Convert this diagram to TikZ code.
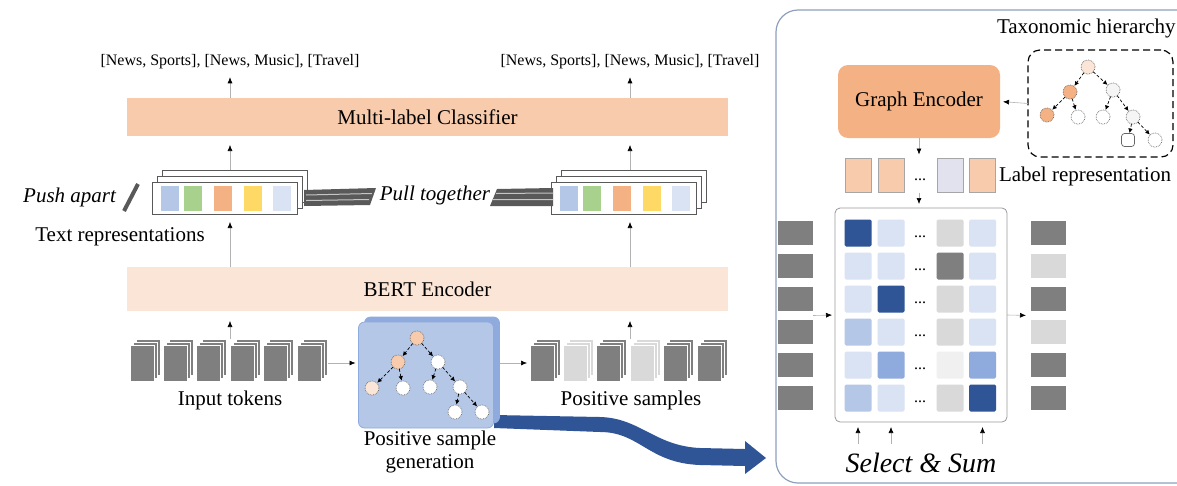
\documentclass[tikz,border=0pt]{standalone}
\usepackage{fontspec}
\setmainfont{Liberation Serif}
\usetikzlibrary{arrows.meta,shadows,calc}

\definecolor{clsfill}{HTML}{F8CBAD}
\definecolor{bertfill}{HTML}{FBE5D6}
\definecolor{gefill}{HTML}{F4B183}
\definecolor{psgfront}{HTML}{B4C7E7}
\definecolor{psgback}{HTML}{8FAADC}
\definecolor{darkblue}{HTML}{2F5597}
\definecolor{midblue}{HTML}{8FAADC}
\definecolor{softblue}{HTML}{B4C7E7}
\definecolor{paleblue}{HTML}{DAE3F3}
\definecolor{tokdark}{HTML}{7F7F7F}
\definecolor{toklight}{HTML}{D9D9D9}
\definecolor{repblue}{HTML}{B4C7E7}
\definecolor{repgreen}{HTML}{A9D18E}
\definecolor{reporange}{HTML}{F4B183}
\definecolor{repyellow}{HTML}{FFD966}
\definecolor{replight}{HTML}{DAE3F3}
\definecolor{panelline}{HTML}{8EA0BC}
\definecolor{bargray}{HTML}{595959}
\definecolor{lavender}{HTML}{E2E2EE}

\begin{document}
\begin{tikzpicture}[x=1pt,y=-1pt,
  every node/.style={inner sep=0pt, outer sep=0pt},
  txt/.style={font=\fontsize{21}{23}\selectfont},
  itxt/.style={font=\fontsize{21}{23}\selectfont\itshape},
  small/.style={font=\fontsize{16}{19}\selectfont},
  bar/.style={rectangle, minimum width=601pt},
  sarr/.style={draw=gray!60, line width=0.6pt, -{Latex[length=6pt,width=5pt,color=black]}},
  repbox/.style={rectangle, minimum width=145pt, minimum height=32pt, fill=white, draw=gray!70!black, line width=0.6pt,
    copy shadow={shadow xshift=10pt, shadow yshift=12pt, fill=white, draw=gray!70!black, line width=0.6pt},
    copy shadow={shadow xshift=5pt, shadow yshift=6pt, fill=white, draw=gray!70!black, line width=0.6pt}},
  repsq/.style={rectangle, minimum width=18pt, minimum height=25pt, fill=#1},
  tokblock/.style={rectangle, minimum width=24pt, minimum height=36pt, fill=#1, draw=white, line width=0.8pt,
    copy shadow={shadow xshift=6pt, shadow yshift=6pt, fill=#1, draw=white, line width=0.8pt},
    copy shadow={shadow xshift=3pt, shadow yshift=3pt, fill=#1, draw=white, line width=0.8pt}},
  hn/.style={circle, minimum size=14pt, draw=gray!80!black, densely dotted, line width=0.7pt, fill=#1},
  hedge/.style={densely dashed, line width=0.7pt, -{Latex[length=4.5pt,width=4.5pt]}, shorten >=0.5pt},
  rtok/.style={rectangle, minimum width=35pt, minimum height=24pt, fill=#1},
  mcell/.style={rectangle, minimum size=27pt, fill=#1, rounded corners=1.5pt},
  lrsq/.style={rectangle, minimum width=26pt, minimum height=34pt, fill=#1, draw=gray!70, line width=0.6pt},
]
\useasboundingbox (0,0) rectangle (1177,485);
\clip (0,0) rectangle (1177,485);

% ---------- left pipeline ----------
\node[bar, minimum height=38pt, fill=clsfill, txt] (cls) at (427.5,117) {Multi-label Classifier};
\node[bar, minimum height=44pt, fill=bertfill, txt] (bert) at (427.5,289) {BERT Encoder};

\node[small] (lab1) at (230,62) {[News, Sports], [News, Music], [Travel]};
\node[small] (lab2) at (630,62) {[News, Sports], [News, Music], [Travel]};

% text representations
\node[repbox] (trL) at (224.5,198) {};
\node[repbox] (trR) at (623.5,198) {};
\foreach \dx/\c [count=\i] in {18/repblue,41/repgreen,71/reporange,101/repyellow,130/replight}{
  \node[repsq=\c] (sqL\i) at ($(trL.west)+(\dx,0)$) {};
  \node[repsq=\c] (sqR\i) at ($(trR.west)+(\dx,0)$) {};
}
\node[txt] (trlab) at (120,237) {Text representations};
\node[itxt, anchor=east] (push) at (116,197) {Push apart};
\node[itxt] (pull) at (435,195) {Pull together};

% contrast bars
\draw[line width=4pt, bargray] (124,211) -- (138,184);
\fill[bargray] (304,190) -- (376,188) -- (370,205) -- (304,206) -- cycle;
\draw[gray!45, line width=1pt] (306,195) -- (372,193.5) (306,200.5) -- (369,199.5);
\fill[bargray] (497,189) -- (553,188) -- (553,206) -- (490,206) -- cycle;
\draw[gray!45, line width=1pt] (496,193.5) -- (553,193) (493,199.5) -- (553,199.5);

% tokens
\foreach \i in {1,...,6}{
  \node[tokblock=tokdark] (in\i) at ({142+(\i-1)*33.4},363) {};
}
\foreach \c [count=\i] in {tokdark,toklight,tokdark,toklight,tokdark,tokdark}{
  \node[tokblock=\c] (pos\i) at ({542+(\i-1)*33.4},363) {};
}
\node[txt] (inlab) at (230,400) {Input tokens};
\node[txt] (poslab) at (631,400) {Positive samples};

% flow arrow into the label-aware panel
\fill[darkblue] (494,415) -- (600,417) .. controls (640,418) and (655,446) .. (700,448) -- (745,449) -- (745,441)
  -- (766,458) -- (745,474) -- (745,466) -- (700,465) .. controls (648,463) and (640,432) .. (600,432) -- (494,428) -- cycle;

% positive sample generation
\node[rectangle, rounded corners=6pt, minimum width=135pt, minimum height=106pt, fill=psgfront, draw=psgback, line width=0.8pt,
  copy shadow={shadow xshift=6pt, shadow yshift=5pt, fill=psgback, draw=psgback}] (psg) at (426,375) {};
\node[hn=clsfill] (p0) at (417,338) {};
\node[hn=clsfill] (p1) at (398,362) {};
\node[hn=white] (p2) at (438,362) {};
\node[hn=bertfill] (p3) at (372,388) {};
\node[hn=white] (p4) at (403,388) {};
\node[hn=white] (p5) at (430,387) {};
\node[hn=white] (p6) at (460,387) {};
\node[hn=white] (p7) at (455,412) {};
\node[hn=white] (p8) at (482,412) {};
\foreach \a/\b in {p0/p1,p0/p2,p1/p3,p1/p4,p2/p5,p2/p6,p6/p7,p6/p8}
  \draw[hedge] (\a) -- (\b);
\node[txt, align=center] (psglab) at (430,452) {Positive sample\\generation};

% small arrows
\draw[sarr, shorten >=8pt] (cls.north -| lab1) -- (lab1.south);
\draw[sarr, shorten >=8pt] (cls.north -| lab2) -- (lab2.south);
\draw[sarr, shorten >=9pt] ($(trL.north -| lab1)+(0,-12)$) -- (cls.south -| lab1);
\draw[sarr, shorten >=9pt] ($(trR.north -| lab2)+(0,-12)$) -- (cls.south -| lab2);
\draw[sarr, shorten >=8pt] (bert.north -| lab1) -- (trL.south -| lab1);
\draw[sarr, shorten >=8pt] (bert.north -| lab2) -- (trR.south -| lab2);
\draw[sarr, shorten >=10pt] ($(in1.north -| lab1)+(0,-6)$) -- (bert.south -| lab1);
\draw[sarr, shorten >=10pt] ($(pos1.north -| lab2)+(0,-6)$) -- (bert.south -| lab2);
\draw[sarr, shorten >=3pt] ($(in6.east)+(7,0)$) -- (psg.west |- in6.east);
\draw[sarr, shorten >=3pt] ($(psg.east |- pos1.west)+(6,0)$) -- (pos1.west);

% ---------- label-aware panel ----------
\draw[panelline, line width=1.2pt, rounded corners=22pt] (776,10) rectangle (1200,483);

\node[rectangle, rounded corners=10pt, minimum width=162pt, minimum height=73pt, fill=gefill, txt] (ge) at (919,101.5) {Graph Encoder};
\node[txt, anchor=west] (taxlab) at (997,28) {Taxonomic hierarchy};
\node[rectangle, rounded corners=12pt, minimum width=145pt, minimum height=107pt, draw, line width=1.2pt,
  dash pattern=on 7pt off 4pt] (tax) at (1100.5,103.5) {};
\node[hn=bertfill] (t0) at (1088,67) {};
\node[hn=gefill] (t1) at (1070,92) {};
\node[hn=gray!8] (t2) at (1113,90) {};
\node[hn=gefill] (t3) at (1047,115) {};
\node[hn=white] (t4) at (1078,117) {};
\node[hn=white] (t5) at (1103,117) {};
\node[hn=gray!8] (t6) at (1133,117) {};
\node[rectangle, rounded corners=3pt, minimum size=13pt, draw=gray!80!black, line width=0.7pt, fill=white] (t7) at (1128,140) {};
\node[hn=white] (t8) at (1155,140) {};
\foreach \a/\b in {t0/t1,t0/t2,t1/t3,t1/t4,t2/t5,t2/t6,t6/t7,t6/t8}
  \draw[hedge] (\a) -- (\b);
\draw[sarr, shorten >=3pt] (tax.west) -- (ge.east);

% label representation
\node[lrsq=clsfill] (lq1) at (858,175.5) {};
\node[lrsq=clsfill] (lq2) at (891,175.5) {};
\node[small] (lqd) at (920,180) {...};
\node[lrsq=lavender] (lq3) at (950,175.5) {};
\node[lrsq=clsfill] (lq4) at (982.5,175.5) {};
\node[txt, anchor=west] (lrlab) at (999,176) {Label representation};
\draw[sarr, shorten >=4pt] (ge.south) -- (ge.south |- lq1.north);

% interaction matrix
\node[rectangle, rounded corners=5pt, minimum width=172pt, minimum height=214pt, draw=gray!80, line width=0.8pt, fill=white] (mat) at (921,315) {};
\draw[sarr, shorten >=4pt] (lq1.south -| ge.south) -- (mat.north -| ge.south);
\foreach \r/\ca/\cb/\cc/\cd [count=\k] in {
  233/darkblue/paleblue/toklight/paleblue,
  266/paleblue/paleblue/tokdark/paleblue,
  299/paleblue/darkblue/toklight/paleblue,
  332/softblue/paleblue/toklight/paleblue,
  365/paleblue/midblue/gray!12/midblue,
  398/softblue/paleblue/toklight/darkblue}{
  \node[mcell=\ca] (c\k1) at (858,\r) {};
  \node[mcell=\cb] (c\k2) at (891,\r) {};
  \node[small] (d\k) at (920,\r+4) {...};
  \node[mcell=\cc] (c\k3) at (950,\r) {};
  \node[mcell=\cd] (c\k4) at (982.5,\r) {};
}
\foreach \r/\cr [count=\k] in {233/tokdark,266/toklight,299/tokdark,332/toklight,365/tokdark,398/tokdark}{
  \node[rtok=tokdark] (lt\k) at (795.5,\r) {};
  \node[rtok=\cr] (rt\k) at (1048.5,\r) {};
}
\draw[sarr, shorten >=3pt] ($(lt3.east)!.5!(lt4.east)$) -- (mat.west);
\draw[sarr, shorten >=5pt] (mat.east) -- ($(rt3.west)!.5!(rt4.west)$);

\coordinate (selbase) at (921,444);
\foreach \c in {1,2,4}
  \draw[sarr, shorten >=5pt] (c6\c |- selbase) -- (c6\c |- mat.south);
\node[font=\fontsize{28}{32}\selectfont\itshape] (sel) at (921,463) {Select \& Sum};
\end{tikzpicture}
\end{document}
